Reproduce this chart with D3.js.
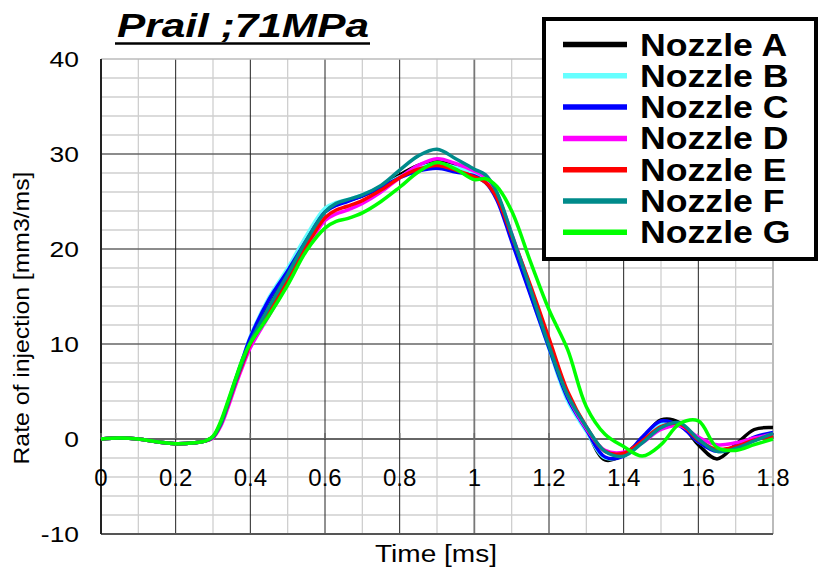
<!DOCTYPE html>
<html>
<head>
<meta charset="utf-8">
<script src="https://cdn.jsdelivr.net/npm/d3@7"></script>
<style>
  html, body { margin: 0; padding: 0; background: #fff; }
  svg { display: block; font-family: "Liberation Sans", Arial, sans-serif; }
</style>
</head>
<body>
<svg id="chart" width="821" height="573"></svg>
<script>
// Injection rate traces, Prail 71 MPa
const times = [0, 0.05, 0.1, 0.15, 0.2, 0.25, 0.28, 0.3, 0.32, 0.34, 0.36, 0.38, 0.4,
  0.45, 0.5, 0.55, 0.6, 0.63, 0.66, 0.7, 0.75, 0.8, 0.85, 0.9, 0.95, 1.0,
  1.03, 1.06, 1.1, 1.15, 1.2, 1.25, 1.3, 1.35, 1.4, 1.45, 1.5, 1.55, 1.6, 1.65, 1.7, 1.75, 1.8];

const nozzleA = [0, 0.1, 0, -0.3, -0.5, -0.4, -0.2, 0.2, 1.5, 3.7, 6.0, 8.2, 10.3,
  14.0, 17.4, 21.0, 24.0, 24.8, 25.1, 25.6, 26.5, 27.8, 28.8, 29.3, 28.8, 28.1,
  27.4, 25.8, 21.3, 15.6, 9.8, 4.4, 1.0, -2.2, -1.6, 0.0, 2.0, 1.7, -0.6, -2.1, -0.6, 1.0, 1.2];
const nozzleB = [0, 0.1, 0, -0.3, -0.5, -0.4, -0.2, 0.2, 1.6, 3.8, 6.2, 8.5, 10.8,
  14.9, 18.0, 21.4, 24.3, 24.9, 25.2, 25.7, 26.6, 27.6, 28.5, 29.0, 28.6, 28.0,
  27.2, 25.5, 21.0, 15.3, 9.5, 4.0, 0.8, -2.0, -1.7, 0.0, 1.6, 1.5, -0.3, -1.2, -0.8, 0.0, 0.5];
const nozzleC = [0, 0.1, 0, -0.3, -0.5, -0.4, -0.2, 0.2, 1.6, 3.8, 6.2, 8.5, 10.7,
  14.7, 17.7, 20.9, 23.9, 24.6, 25.0, 25.6, 26.5, 27.5, 28.2, 28.5, 28.1, 27.7,
  27.0, 25.2, 20.8, 15.2, 9.6, 4.3, 1.0, -1.9, -1.8, 0.2, 1.9, 1.4, -0.3, -1.3, -0.8, 0.2, 0.7];
const nozzleD = [0, 0.1, 0, -0.3, -0.5, -0.4, -0.2, 0.1, 1.3, 3.3, 5.6, 7.7, 9.6,
  13.0, 16.4, 20.0, 23.0, 23.7, 24.1, 24.8, 26.0, 27.5, 28.8, 29.5, 29.0, 28.2,
  27.5, 25.8, 21.6, 16.0, 10.2, 4.6, 1.1, -1.2, -1.4, -0.4, 1.0, 1.4, 0.2, -0.6, -0.4, 0.1, 0.5];
const nozzleE = [0, 0.1, 0, -0.3, -0.5, -0.4, -0.2, 0.2, 1.5, 3.6, 5.9, 8.0, 10.0,
  13.4, 16.8, 20.3, 23.3, 24.1, 24.5, 25.1, 26.2, 27.5, 28.4, 28.8, 28.3, 27.6,
  27.0, 25.4, 21.4, 16.2, 10.6, 5.0, 1.3, -1.3, -1.5, -0.2, 1.3, 1.6, -0.1, -1.1, -0.8, -0.1, 0.3];
const nozzleF = [0, 0.1, 0, -0.3, -0.5, -0.4, -0.2, 0.2, 1.5, 3.7, 6.0, 8.2, 10.2,
  13.9, 17.3, 20.9, 23.9, 24.8, 25.2, 25.7, 26.7, 28.3, 29.8, 30.5, 29.5, 28.4,
  27.8, 26.0, 21.6, 15.8, 9.8, 4.6, 1.3, -1.3, -1.8, -0.4, 1.2, 1.7, 0.0, -1.3, -1.0, -0.2, 0.6];
const nozzleG = [0, 0.1, 0, -0.3, -0.5, -0.4, -0.2, 0.3, 1.8, 4.0, 6.3, 8.5, 10.1,
  13.0, 16.2, 19.8, 22.2, 22.9, 23.2, 23.8, 25.0, 26.5, 28.1, 29.1, 28.4, 27.3,
  27.4, 26.6, 24.0, 18.7, 13.6, 9.4, 3.4, 0.5, -0.8, -1.8, -0.6, 1.6, 1.9, -0.9, -1.2, -0.6, 0.0];

const seriesNames = ["Nozzle A", "Nozzle B", "Nozzle C", "Nozzle D", "Nozzle E", "Nozzle F", "Nozzle G"];
const seriesValues = [nozzleA, nozzleB, nozzleC, nozzleD, nozzleE, nozzleF, nozzleG];
const seriesColors = ["#000000", "#66ffff", "#0000ff", "#ff00ff", "#ff0000", "#008b8b", "#00ff00"];

const xTicks = [0, 0.2, 0.4, 0.6, 0.8, 1, 1.2, 1.4, 1.6, 1.8];
const yTicks = [-10, 0, 10, 20, 30, 40];

const svg = d3.select("#chart");
const plotLeft = 101, plotRight = 773, plotTop = 59, plotBottom = 534;

const x = d3.scaleLinear().domain([0, 1.8]).range([plotLeft, plotRight]);
const y = d3.scaleLinear().domain([-10, 40]).range([plotBottom, plotTop]);

// widen a text horizontally by a factor, keeping its anchor
function widen(sel, factor) {
  sel.each(function () {
    const w = this.getComputedTextLength();
    d3.select(this).attr("textLength", w * factor).attr("lengthAdjust", "spacingAndGlyphs");
  });
}

// grid: minor lines every 0.1 ms / 2 units, major every 0.2 ms / 10 units
const grid = svg.append("g");
d3.range(-10, 40.001, 2).forEach(v => {
  if (v % 10 === 0) return;
  grid.append("line").attr("x1", plotLeft).attr("x2", plotRight)
    .attr("y1", y(v)).attr("y2", y(v))
    .attr("stroke", "#cfcfcf").attr("stroke-width", 1.3);
});
d3.range(0.1, 1.8, 0.2).forEach(t => {
  grid.append("line").attr("x1", x(t)).attr("x2", x(t))
    .attr("y1", plotTop).attr("y2", plotBottom)
    .attr("stroke", "#cfcfcf").attr("stroke-width", 1.3);
});
yTicks.forEach(v => {
  if (v === 40 || v === -10) return;
  grid.append("line").attr("x1", plotLeft).attr("x2", plotRight)
    .attr("y1", y(v)).attr("y2", y(v))
    .attr("stroke", "#666").attr("stroke-width", v === 0 ? 2 : 1.5);
});
xTicks.forEach(t => {
  if (t === 0 || t === 1.8) return;
  grid.append("line").attr("x1", x(t)).attr("x2", x(t))
    .attr("y1", plotTop).attr("y2", plotBottom)
    .attr("stroke", t === 1 ? "#777" : "#222").attr("stroke-width", t === 1 ? 1.8 : 1);
});
// frame
grid.append("line").attr("x1", plotLeft).attr("x2", plotRight).attr("y1", plotTop).attr("y2", plotTop)
  .attr("stroke", "#bbb").attr("stroke-width", 1.5);
grid.append("line").attr("x1", plotRight).attr("x2", plotRight).attr("y1", plotTop).attr("y2", plotBottom)
  .attr("stroke", "#bbb").attr("stroke-width", 2);
grid.append("line").attr("x1", plotLeft).attr("x2", plotRight).attr("y1", plotBottom).attr("y2", plotBottom)
  .attr("stroke", "#555").attr("stroke-width", 2);
grid.append("line").attr("x1", plotLeft).attr("x2", plotLeft).attr("y1", plotTop).attr("y2", plotBottom)
  .attr("stroke", "#222").attr("stroke-width", 2);

// small ticks along the zero line
xTicks.forEach(t => {
  grid.append("line").attr("x1", x(t)).attr("x2", x(t))
    .attr("y1", y(0) - 6).attr("y2", y(0))
    .attr("stroke", "#666").attr("stroke-width", 1.5);
});

// y tick labels
svg.append("g").selectAll("text").data(yTicks).join("text")
  .attr("x", 79).attr("y", d => y(d))
  .attr("dy", "0.36em")
  .attr("text-anchor", "end")
  .attr("font-size", 22)
  .text(d => d)
  .call(widen, 1.2);

// x tick labels, placed just under the zero line
svg.append("g").selectAll("text").data(xTicks).join("text")
  .attr("x", d => x(d)).attr("y", y(0) + 47)
  .attr("text-anchor", "middle")
  .attr("font-size", 24)
  .text(d => d);

// axis titles
svg.append("text")
  .attr("transform", `translate(29, ${318}) rotate(-90)`)
  .attr("text-anchor", "middle")
  .attr("font-size", 22)
  .attr("textLength", 293)
  .attr("lengthAdjust", "spacingAndGlyphs")
  .text("Rate of injection [mm3/ms]");
svg.append("text")
  .attr("x", 436).attr("y", 562)
  .attr("text-anchor", "middle")
  .attr("font-size", 23)
  .attr("textLength", 122)
  .attr("lengthAdjust", "spacingAndGlyphs")
  .text("Time [ms]");

// chart title
svg.append("text")
  .attr("x", 117).attr("y", 37)
  .attr("font-size", 34)
  .attr("font-weight", "bold")
  .attr("font-style", "italic")
  .attr("textLength", 252)
  .attr("lengthAdjust", "spacingAndGlyphs")
  .text("Prail ;71MPa");
svg.append("line").attr("x1", 115).attr("x2", 370).attr("y1", 43.5).attr("y2", 43.5)
  .attr("stroke", "#000").attr("stroke-width", 2.5);

// traces
const line = d3.line()
  .x((d, i) => x(times[i]))
  .y(d => y(d))
  .curve(d3.curveCatmullRom.alpha(0.5));

const traces = svg.append("g");
seriesValues.forEach((vals, k) => {
  traces.append("path")
    .attr("d", line(vals))
    .attr("fill", "none")
    .attr("stroke", seriesColors[k])
    .attr("stroke-width", 3.5)
    .attr("stroke-linejoin", "round");
});

// legend
const legend = svg.append("g");
legend.append("rect")
  .attr("x", 544).attr("y", 19).attr("width", 272).attr("height", 240)
  .attr("fill", "#fff").attr("stroke", "#000").attr("stroke-width", 4);
seriesNames.forEach((name, k) => {
  const cy = 44.5 + k * 31.3;
  legend.append("line")
    .attr("x1", 563).attr("x2", 627).attr("y1", cy).attr("y2", cy)
    .attr("stroke", seriesColors[k]).attr("stroke-width", 5.5);
  legend.append("text")
    .attr("x", 640).attr("y", cy + 11)
    .attr("font-size", 31)
    .attr("font-weight", "bold")
    .text(name)
    .call(widen, 1.15);
});
</script>
</body>
</html>
